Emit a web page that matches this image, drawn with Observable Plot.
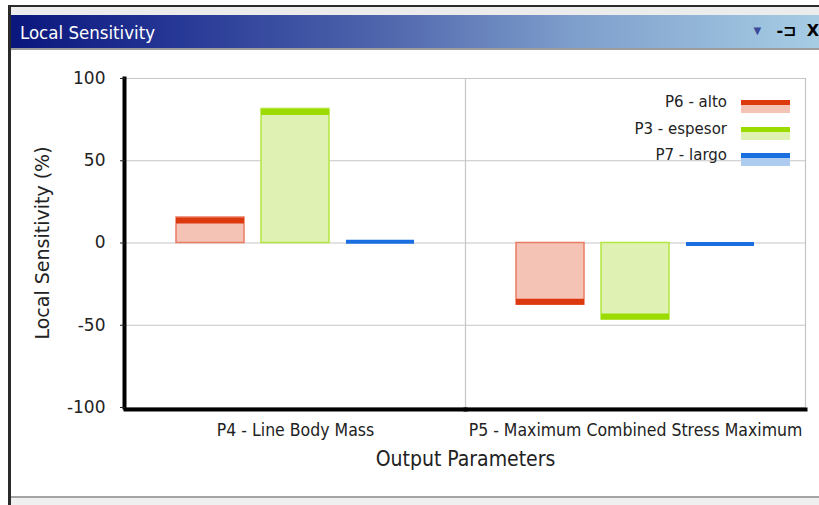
<!DOCTYPE html>
<html><head><meta charset="utf-8">
<script src="https://cdn.jsdelivr.net/npm/d3@7"></script>
<script src="https://cdn.jsdelivr.net/npm/@observablehq/plot@0.6"></script>
<style>
html,body{margin:0;padding:0;background:#fff;width:819px;height:505px;overflow:hidden;position:relative;font-family:"DejaVu Sans",sans-serif;}
.abs{position:absolute;}
#topborder{left:8px;top:5px;width:811px;height:2px;background:#2a2a2a;}
#topgap{left:10px;top:7px;width:809px;height:8px;background:#ececec;}
#titlebar{left:10px;top:15px;width:809px;height:33px;background:linear-gradient(to right,#0a167c 0%,#223393 18%,#4d63ab 45%,#7f9fcc 70%,#a6cde4 100%);}
#titletext{left:10px;top:7px;color:#fff;font-family:"DejaVu Sans Condensed",sans-serif;font-size:18.5px;white-space:nowrap;}
#icons{right:0px;top:6px;color:#000;font-size:16px;white-space:nowrap;}
#underline{left:10px;top:48px;width:809px;height:2px;background:#9c9c9c;}
#leftborder{left:8px;top:5px;width:3px;height:500px;background:#2a2a2a;}
#bottomline{left:11px;top:496px;width:808px;height:2px;background:#a4a4a4;}
#bottomfill{left:11px;top:498px;width:808px;height:7px;background:#f0f0f0;}
#chart{left:0;top:50px;}
#chart g[aria-label="y-axis label"] text{font-size:19px;}
#chart g[aria-label="fx-axis label"] text{font-size:21px;}
.leg-text{font-size:15px;color:#222;text-align:right;width:200px;white-space:nowrap;}
</style>
</head><body>
<div id="topborder" class="abs"></div>
<div id="topgap" class="abs"></div>
<div id="titlebar" class="abs"><div id="titletext" class="abs">Local Sensitivity</div>
<div id="icons" class="abs"><span style="color:#3a4a9a;font-size:10px;position:relative;top:-2px">&#9660;</span>&nbsp;&nbsp;&nbsp;<b>-&#x2290;</b>&nbsp;&nbsp;<b>X</b></div></div>
<div id="underline" class="abs"></div>
<div id="leftborder" class="abs"></div>
<div id="chart" class="abs"></div>
<div id="legend" class="abs" style="left:0;top:0"></div>
<div id="bottomline" class="abs"></div>
<div id="bottomfill" class="abs"></div>
<script>
// ---- data ----
const categories = ["P4 - Line Body Mass", "P5 - Maximum Combined Stress Maximum"];
const series = ["P6 - alto", "P3 - espesor", "P7 - largo"];
const altoValues = [15.5, -37.5];
const espesorValues = [81.5, -46.5];
const largoValues = [0.8, -0.6];
const yTicks = [-100, -50, 0, 50, 100];
const xTitle = "Output Parameters";
const yTitle = "Local Sensitivity (%)";
const darkColors = ["#dc3a0e", "#9bdb00", "#1a6fe0"];
const lightColors = ["#f4c3b5", "#dff2b4", "#aecbf0"];
const edgeColors = ["#ea7c64", "#b3e63e", "#1a6fe0"];

const seriesValues = [altoValues, espesorValues, largoValues];
const rows = [];
categories.forEach((c, i) => series.forEach((s, j) => rows.push({category: c, series: s, value: seriesValues[j][i], k: j})));
const boxed = rows.filter(d => d.k < 2);
const flat = rows.filter(d => d.k === 2);

const W = 819, H = 447;
const chart = Plot.plot({
  width: W, height: H,
  marginLeft: 124, marginRight: 14, marginTop: 28, marginBottom: 90,
  style: {fontFamily: "DejaVu Sans", fontSize: "15px", color: "#222", background: "transparent"},
  fx: {domain: categories, paddingInner: 0, paddingOuter: 0, axis: null},
  x: {domain: series, paddingInner: 0.2, paddingOuter: 0.6, axis: null},
  y: {domain: [-100, 100], axis: null},
  marks: [
    Plot.gridY(yTicks, {stroke: "#c6c6c6", strokeOpacity: 1, strokeWidth: 1.2}),
    Plot.frame({anchor: "right", stroke: "#c6c6c6", strokeWidth: 1.2}),
    Plot.barY(boxed, {fx: "category", x: "series", y: "value",
      fill: d => lightColors[d.k], stroke: d => edgeColors[d.k], strokeWidth: 1.5}),
    Plot.tickY(boxed.filter(d => d.value >= 0), {fx: "category", x: "series", y: "value",
      stroke: d => darkColors[d.k], strokeWidth: 6, dy: 3}),
    Plot.tickY(boxed.filter(d => d.value < 0), {fx: "category", x: "series", y: "value",
      stroke: d => darkColors[d.k], strokeWidth: 6, dy: -3}),
    Plot.tickY(flat, {fx: "category", x: "series", y: "value",
      stroke: d => darkColors[d.k], strokeWidth: 4}),
    Plot.frame({anchor: "bottom", stroke: "#000", strokeWidth: 4, dy: 2}),
    Plot.frame({anchor: "left", facetAnchor: "left", stroke: "#000", strokeWidth: 4, dx: -1}),
    Plot.axisY(yTicks, {anchor: "left", tickSize: 5, tickPadding: 15, fontSize: 17, tickFormat: d => String(d),
      label: yTitle, labelAnchor: "center", labelOffset: 90, labelArrow: "none"}),
    Plot.axisFx({anchor: "bottom", tickSize: 0, tickPadding: 16, fontSize: 17.5, fontFamily: "DejaVu Sans Condensed",
      label: xTitle, labelAnchor: "center", labelOffset: 58, labelArrow: "none"})
  ]
});
document.getElementById("chart").appendChild(chart);

// legend
const legend = document.getElementById("legend");
series.forEach((s, i) => {
  const top = 100 + i * 26.5;
  const t = document.createElement("div");
  t.className = "abs leg-text";
  t.style.left = (727 - 200) + "px";
  t.style.top = (top - 7) + "px";
  t.textContent = s;
  legend.appendChild(t);
  const sw1 = document.createElement("div");
  sw1.className = "abs";
  Object.assign(sw1.style, {left: "741px", top: top + "px", width: "49px", height: "5px", background: darkColors[i]});
  legend.appendChild(sw1);
  const sw2 = document.createElement("div");
  sw2.className = "abs";
  Object.assign(sw2.style, {left: "741px", top: (top + 5) + "px", width: "49px", height: "8px", background: lightColors[i]});
  legend.appendChild(sw2);
});
</script>
</body></html>
